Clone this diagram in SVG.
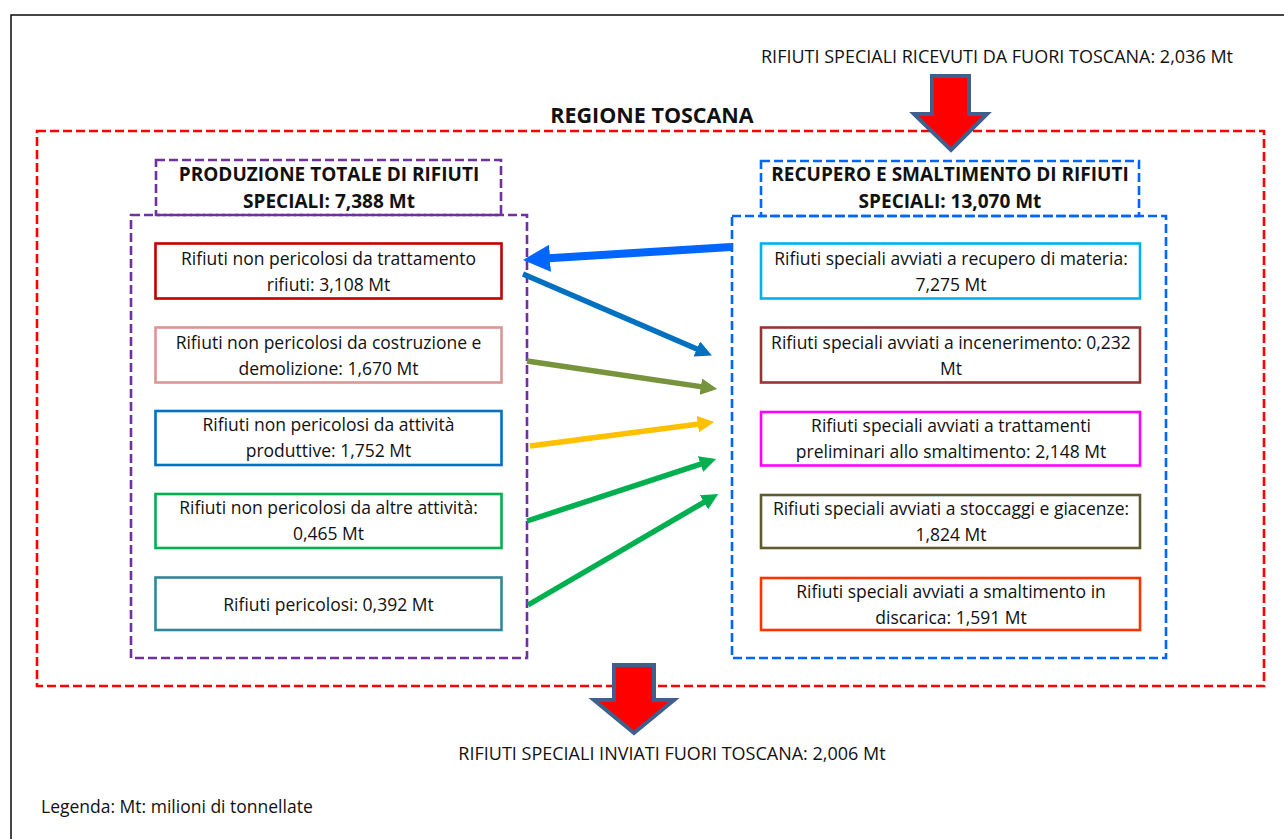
<svg xmlns="http://www.w3.org/2000/svg" width="1284" height="839" viewBox="0 0 1284 839">
<style>
  text { font-family: "Open Sans", "Liberation Sans", sans-serif; fill: #111; }
  .t { font-size: 17.5px; text-anchor: middle; }
  .h { font-size: 19px; font-weight: bold; text-anchor: middle; }
  .big { font-size: 21.5px; font-weight: bold; text-anchor: middle; }
  .lbl { font-size: 18px; text-anchor: middle; }
  .box { fill: #fff; stroke-width: 2.6; }
  .dash { fill: none; stroke-width: 2.6; stroke-dasharray: 9 4; }
  .blk { fill: #FF0000; stroke: #3F5F8C; stroke-width: 4; stroke-linejoin: miter; }
  .conn { fill: none; stroke-linecap: butt; }
</style>
<defs>
  <marker id="mThick" viewBox="0 0 10 10" refX="2" refY="5" markerWidth="3.4" markerHeight="3.4" orient="auto"><path d="M0,0 L10,5 L0,10 z" fill="#0066FF"/></marker>
  <marker id="mBlue" viewBox="0 0 10 10" refX="2" refY="5" markerWidth="3" markerHeight="3" orient="auto"><path d="M0,0 L10,5 L0,10 z" fill="#0070C0"/></marker>
  <marker id="mOlive" viewBox="0 0 10 10" refX="2" refY="5" markerWidth="3" markerHeight="3" orient="auto"><path d="M0,0 L10,5 L0,10 z" fill="#77933C"/></marker>
  <marker id="mYellow" viewBox="0 0 10 10" refX="2" refY="5" markerWidth="3" markerHeight="3" orient="auto"><path d="M0,0 L10,5 L0,10 z" fill="#FFC000"/></marker>
  <marker id="mGreen" viewBox="0 0 10 10" refX="2" refY="5" markerWidth="3" markerHeight="3" orient="auto"><path d="M0,0 L10,5 L0,10 z" fill="#00B050"/></marker>
</defs>
<rect x="0" y="0" width="1284" height="839" fill="#fff"/>
<rect x="11" y="15" width="1300" height="860" fill="none" stroke="#1a1a1a" stroke-width="1.6"/>

<g id="regione">
  <rect class="dash" x="37" y="131" width="1227" height="555" stroke="#FF0000"/>
  <text class="big" x="652" y="123">REGIONE TOSCANA</text>
</g>

<g id="produzione">
  <rect class="dash" x="156" y="160" width="345" height="55" stroke="#7030A0"/>
  <rect class="dash" x="131" y="215" width="396" height="443" stroke="#7030A0"/>
  <text class="h" x="329" y="181">PRODUZIONE TOTALE DI RIFIUTI</text>
  <text class="h" x="329" y="208">SPECIALI: 7,388 Mt</text>
</g>

<g id="recupero">
  <rect class="dash" x="761" y="161" width="378" height="55" stroke="#0066FF"/>
  <rect class="dash" x="732" y="216" width="434" height="442" stroke="#0066FF"/>
  <text class="h" x="950" y="181">RECUPERO E SMALTIMENTO DI RIFIUTI</text>
  <text class="h" x="950" y="208">SPECIALI: 13,070 Mt</text>
</g>

<g id="l1"><rect class="box" x="155.5" y="243.5" width="346" height="55" stroke="#C00000"/>
  <text class="t" x="328.5" y="265">Rifiuti non pericolosi da trattamento</text>
  <text class="t" x="328.5" y="291">rifiuti: 3,108 Mt</text></g>
<g id="l2"><rect class="box" x="155.5" y="327.5" width="346" height="55" stroke="#D99694"/>
  <text class="t" x="328.5" y="349">Rifiuti non pericolosi da costruzione e</text>
  <text class="t" x="328.5" y="375">demolizione: 1,670 Mt</text></g>
<g id="l3"><rect class="box" x="155.5" y="411" width="346" height="54" stroke="#0070C0"/>
  <text class="t" x="328.5" y="431">Rifiuti non pericolosi da attività</text>
  <text class="t" x="328.5" y="457">produttive: 1,752 Mt</text></g>
<g id="l4"><rect class="box" x="155.5" y="494" width="346" height="54" stroke="#00B050"/>
  <text class="t" x="328.5" y="514">Rifiuti non pericolosi da altre attività:</text>
  <text class="t" x="328.5" y="540">0,465 Mt</text></g>
<g id="l5"><rect class="box" x="155.5" y="577.5" width="346" height="52.5" stroke="#31859C"/>
  <text class="t" x="328.5" y="611">Rifiuti pericolosi: 0,392 Mt</text></g>

<g id="r1"><rect class="box" x="761" y="243.5" width="379" height="55" stroke="#00B0F0"/>
  <text class="t" x="951" y="265">Rifiuti speciali avviati a recupero di materia:</text>
  <text class="t" x="951" y="291">7,275 Mt</text></g>
<g id="r2"><rect class="box" x="761" y="327.5" width="379" height="55" stroke="#943634"/>
  <text class="t" x="951" y="349">Rifiuti speciali avviati a incenerimento: 0,232</text>
  <text class="t" x="951" y="375">Mt</text></g>
<g id="r3"><rect class="box" x="761" y="412" width="379" height="53.5" stroke="#FF00FF"/>
  <text class="t" x="951" y="432">Rifiuti speciali avviati a trattamenti</text>
  <text class="t" x="951" y="458">preliminari allo smaltimento: 2,148 Mt</text></g>
<g id="r4"><rect class="box" x="761" y="495" width="379" height="53" stroke="#5F5B2E"/>
  <text class="t" x="951" y="515">Rifiuti speciali avviati a stoccaggi e giacenze:</text>
  <text class="t" x="951" y="541">1,824 Mt</text></g>
<g id="r5"><rect class="box" x="761" y="578" width="379" height="52" stroke="#FF3300"/>
  <text class="t" x="951" y="598">Rifiuti speciali avviati a smaltimento in</text>
  <text class="t" x="951" y="624">discarica: 1,591 Mt</text></g>

<g id="connectors">
  <line class="conn" x1="731" y1="247" x2="544.6" y2="258.6" stroke="#0066FF" stroke-width="8" marker-end="url(#mThick)"/>
  <line class="conn" x1="523" y1="274" x2="699.8" y2="350.3" stroke="#0070C0" stroke-width="5.5" marker-end="url(#mBlue)"/>
  <line class="conn" x1="527" y1="361" x2="704.1" y2="387.1" stroke="#77933C" stroke-width="5.5" marker-end="url(#mOlive)"/>
  <line class="conn" x1="530" y1="446" x2="701.1" y2="423.7" stroke="#FFC000" stroke-width="5.5" marker-end="url(#mYellow)"/>
  <line class="conn" x1="527" y1="521" x2="703.6" y2="463.1" stroke="#00B050" stroke-width="5.5" marker-end="url(#mGreen)"/>
  <line class="conn" x1="528" y1="605" x2="706.8" y2="500.6" stroke="#00B050" stroke-width="5.5" marker-end="url(#mGreen)"/>
</g>

<g id="in">
  <polygon class="blk" points="932,76 969,76 969,114 987,114 951,150 914,114 932,114"/>
  <text class="lbl" x="997" y="63">RIFIUTI SPECIALI RICEVUTI DA FUORI TOSCANA: 2,036 Mt</text>
</g>
<g id="out">
  <polygon class="blk" points="614,665 654,665 654,700 674,700 634,733 594,700 614,700"/>
  <text class="lbl" x="672" y="760">RIFIUTI SPECIALI INVIATI FUORI TOSCANA: 2,006 Mt</text>
</g>
<g id="legenda">
  <text x="41" y="813" style="font-size:17.5px">Legenda: Mt: milioni di tonnellate</text>
</g>
</svg>
